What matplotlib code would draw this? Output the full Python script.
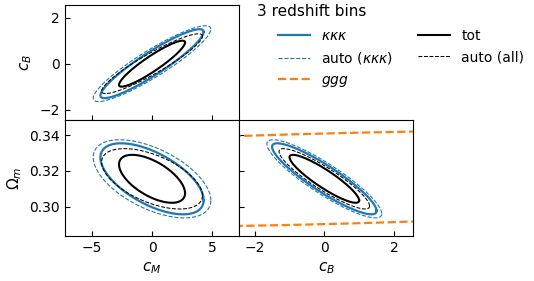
import numpy as np
import matplotlib
matplotlib.use('Agg')
import matplotlib.pyplot as plt

# parametres: c_M, c_B, Omega_m
centre = [0.0, 0.0, 0.3156]

# demi-largeurs des contours (c_M, c_B, Omega_m)
sig_kkk = [4.3, 1.5, 0.0200]
sig_auto_kkk = [4.9, 1.65, 0.0220]
sig_tot = [2.75, 1.0, 0.0135]
sig_auto_all = [4.2, 1.3, 0.0170]
sig_ggg = [np.nan, 20.0, 0.0274]

# correlations (cM-cB, cM-Om, cB-Om)
rho_kkk = [0.92, -0.60, -0.90]
rho_auto_kkk = [0.91, -0.55, -0.89]
rho_tot = [0.92, -0.60, -0.90]
rho_auto_all = [0.92, -0.55, -0.90]
rho_ggg = [np.nan, np.nan, 0.365]

probes = [
    (r'$\kappa\kappa\kappa$', sig_kkk, rho_kkk, '#1f77b4', '-', 1.6),
    (r'auto ($\kappa\kappa\kappa$)', sig_auto_kkk, rho_auto_kkk, '#1f77b4', '--', 0.8),
    (r'$ggg$', sig_ggg, rho_ggg, '#ff7f0e', '--', 1.6),
    ('tot', sig_tot, rho_tot, 'k', '-', 1.5),
    ('auto (all)', sig_auto_all, rho_auto_all, 'k', '--', 0.75),
]
draw_order = [1, 0, 2, 4, 3]
pair_index = {(0, 1): 0, (0, 2): 1, (1, 2): 2}


def ellipse(i, j, sig, rho):
    t = np.linspace(0, 2 * np.pi, 400)
    r = rho[pair_index[(i, j)]]
    x = centre[i] + sig[i] * np.cos(t)
    y = centre[j] + sig[j] * (r * np.cos(t) + np.sqrt(1 - r**2) * np.sin(t))
    return x, y


fig = plt.figure(figsize=(5.34, 2.81), dpi=100)
ax_tl = fig.add_axes([0.1217, 0.573, 0.326, 0.409])
ax_bl = fig.add_axes([0.1217, 0.1601, 0.326, 0.4128])
ax_br = fig.add_axes([0.4476, 0.1601, 0.326, 0.4128])

panels = [(ax_tl, 0, 1), (ax_bl, 0, 2), (ax_br, 1, 2)]
handles = {}
for ax, i, j in panels:
    for n in draw_order:
        lab, sig, rho, c, ls, lw = probes[n]
        if np.isnan(rho[pair_index[(i, j)]]):
            continue
        x, y = ellipse(i, j, sig, rho)
        line, = ax.plot(x, y, color=c, ls=ls, lw=lw, label=lab)
        handles[n] = line

ax_tl.set_xlim(-7.25, 7.25)
ax_tl.set_ylim(-2.45, 2.55)
ax_bl.set_xlim(-7.25, 7.25)
ax_bl.set_ylim(0.2834, 0.3487)
ax_br.set_xlim(-2.45, 2.55)
ax_br.set_ylim(0.2834, 0.3487)

ax_tl.set_xticks([-5, 0, 5])
ax_tl.set_xticklabels([])
ax_tl.set_yticks([-2, 0, 2])
ax_bl.set_xticks([-5, 0, 5])
ax_bl.set_yticks([0.30, 0.32, 0.34])
ax_br.set_xticks([-2, 0, 2])
ax_br.set_yticks([0.30, 0.32, 0.34])
ax_br.set_yticklabels([])

for ax in (ax_tl, ax_bl, ax_br):
    ax.tick_params(direction='in', labelsize=10)

ax_tl.set_ylabel(r'$c_B$', fontsize=11)
ax_bl.set_ylabel(r'$\Omega_m$', fontsize=11)
ax_bl.set_xlabel(r'$c_M$', fontsize=11)
ax_br.set_xlabel(r'$c_B$', fontsize=11)

fig.text(257 / 534, 1 - 12 / 281, '3 redshift bins', fontsize=11, va='center', ha='left')
fig.legend([handles[n] for n in range(5)], [p[0] for p in probes],
           loc='upper left', bbox_to_anchor=(0.498, 0.941), ncol=2,
           frameon=False, fontsize=10, handlelength=2.3, columnspacing=1.8)

fig.savefig('out.png', dpi=100)
